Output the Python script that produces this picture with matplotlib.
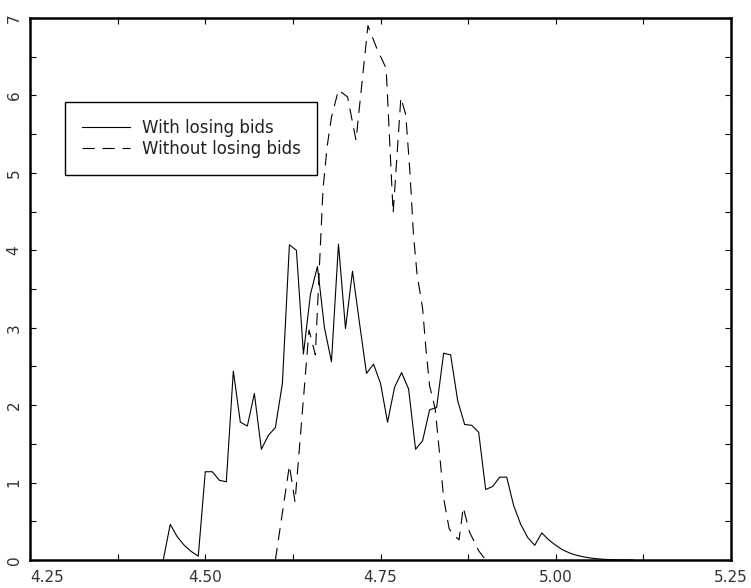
import matplotlib
matplotlib.use("Agg")
import matplotlib.pyplot as plt
import matplotlib.ticker as ticker

# === data: with losing bids (0.01 grid) ===
with_x = [4.44, 4.45, 4.46, 4.47, 4.48, 4.49, 4.50, 4.51, 4.52, 4.53,
          4.54, 4.55, 4.56, 4.57, 4.58, 4.59, 4.60, 4.61, 4.62, 4.63,
          4.64, 4.65, 4.66, 4.67, 4.68, 4.69, 4.70, 4.71, 4.72, 4.73,
          4.74, 4.75, 4.76, 4.77, 4.78, 4.79, 4.80, 4.81, 4.82, 4.83,
          4.84, 4.85, 4.86, 4.87, 4.88, 4.89, 4.90, 4.91, 4.92, 4.93,
          4.94, 4.95, 4.96, 4.97, 4.98, 4.99, 5.00, 5.01, 5.02, 5.03,
          5.04, 5.05, 5.06, 5.07, 5.08, 5.09, 5.10, 5.11]
with_y = [0.00, 0.46, 0.30, 0.19, 0.11, 0.05, 1.14, 1.14, 1.03, 1.01,
          2.44, 1.78, 1.73, 2.15, 1.43, 1.61, 1.71, 2.28, 4.07, 4.00,
          2.66, 3.43, 3.79, 3.00, 2.56, 4.08, 2.99, 3.73, 3.06, 2.41,
          2.53, 2.28, 1.78, 2.23, 2.42, 2.21, 1.43, 1.54, 1.94, 1.97,
          2.67, 2.65, 2.06, 1.75, 1.74, 1.65, 0.91, 0.95, 1.07, 1.07,
          0.70, 0.46, 0.29, 0.19, 0.35, 0.26, 0.19, 0.13, 0.09, 0.06,
          0.04, 0.025, 0.015, 0.008, 0.004, 0.002, 0.001, 0.0]

# === data: without losing bids ===
without_x = [4.600, 4.620, 4.628, 4.648, 4.657, 4.668, 4.674, 4.680, 4.690,
             4.703, 4.715, 4.732, 4.745, 4.758, 4.768, 4.779, 4.786, 4.792,
             4.797, 4.802, 4.810, 4.815, 4.820, 4.828, 4.835, 4.840, 4.848,
             4.855, 4.862, 4.868, 4.877, 4.890, 4.900]
without_y = [0.00, 1.22, 0.75, 2.97, 2.65, 4.80, 5.35, 5.72, 6.07,
             5.98, 5.42, 6.90, 6.60, 6.35, 4.48, 5.97, 5.75, 5.00,
             4.20, 3.70, 3.25, 2.70, 2.25, 1.95, 1.30, 0.80, 0.40,
             0.32, 0.26, 0.68, 0.36, 0.12, 0.00]

x_ticks = [4.25, 4.50, 4.75, 5.00, 5.25]
x_labels = ["4.25", "4.50", "4.75", "5.00", "5.25"]
y_ticks = [0, 1, 2, 3, 4, 5, 6, 7]

# === figure ===
fig = plt.figure(figsize=(7.51, 5.88), dpi=100)
ax = fig.add_axes([0.04, 0.0476, 0.9334, 0.9218])

ax.plot(with_x, with_y, color="black", linewidth=0.8, label="With losing bids")
ax.plot(without_x, without_y, color="black", linewidth=0.8,
        dashes=(11, 7), label="Without losing bids")

ax.set_xlim(4.25, 5.25)
ax.set_ylim(0, 7)
ax.set_xticks(x_ticks)
ax.set_xticklabels(x_labels)
ax.set_yticks(y_ticks)
ax.xaxis.set_minor_locator(ticker.MultipleLocator(0.125))
ax.yaxis.set_minor_locator(ticker.MultipleLocator(0.5))

for side in ax.spines.values():
    side.set_linewidth(1.8)

ax.tick_params(which="both", direction="in", top=True, right=True,
               length=4, width=0.8, color="black")
ax.tick_params(axis="x", pad=7, labelsize=11, labelcolor="#333333")
ax.tick_params(axis="y", pad=6, labelsize=11, labelcolor="#333333",
               labelrotation=90)
for lab in ax.get_yticklabels():
    lab.set_verticalalignment("center")
ax.get_xticklabels()[0].set_horizontalalignment("left")

leg = ax.legend(loc="upper left", bbox_to_anchor=(0.05, 0.845),
                borderaxespad=0, fancybox=False, framealpha=1,
                edgecolor="black", fontsize=12, handlelength=2.9,
                handletextpad=0.7, borderpad=1.0, labelspacing=0.2)
leg.get_frame().set_linewidth(1.0)
for t in leg.get_texts():
    t.set_color("#222222")

fig.savefig("out.png", dpi=100)
